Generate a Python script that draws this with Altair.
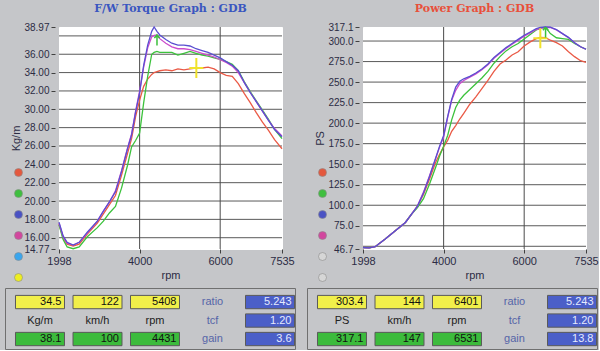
import altair as alt
import pandas as pd

# ---------------- data ----------------
rpm_torque = [1998, 2100, 2200, 2350, 2500, 2700, 2950, 3100, 3250, 3400, 3550, 3700, 3800, 3900,
              4000, 4100, 4200, 4300, 4360, 4430, 4500, 4650, 4800, 4950, 5100, 5250, 5400, 5550,
              5700, 5850, 6000, 6150, 6300, 6450, 6600, 6750, 6900, 7050, 7200, 7350, 7535]
torque_red = [17.5, 16.0, 15.3, 15.1, 15.3, 16.4, 17.6, 18.6, 19.6, 20.6, 22.8, 25.2, 26.8, 29.2,
              31.0, 32.5, 33.3, 33.8, 34.0, 34.1, 34.2, 34.3, 34.2, 34.4, 34.3, 34.4, 34.5, 34.5,
              34.6, 34.4, 34.0, 33.7, 33.6, 32.8, 31.7, 30.7, 29.6, 28.6, 27.7, 26.7, 25.7]
torque_green = [17.4, 15.8, 15.0, 14.8, 15.0, 16.1, 17.1, 17.8, 18.7, 19.4, 21.4, 23.9, 25.9, 26.6,
                27.4, 30.7, 33.6, 36.0, 36.2, 36.3, 36.2, 36.2, 36.2, 35.9, 36.1, 36.3, 36.1, 35.9,
                35.8, 35.6, 35.45, 35.2, 34.9, 34.2, 33.0, 31.9, 30.9, 29.9, 28.9, 27.8, 26.8]
torque_magenta = [17.6, 16.1, 15.4, 15.2, 15.5, 16.5, 17.8, 18.9, 19.9, 21.1, 23.3, 25.8, 27.3, 29.8,
                  32.0, 34.6, 36.7, 37.9, 38.05, 38.1, 37.7, 37.2, 36.8, 36.6, 36.6, 36.5, 36.3, 36.1,
                  35.9, 35.7, 35.4, 35.1, 34.7, 34.0, 32.9, 31.8, 30.8, 29.8, 28.8, 27.9, 27.1]
torque_blue = [17.7, 16.2, 15.5, 15.2, 15.5, 16.6, 17.8, 18.9, 19.9, 21.0, 23.2, 25.7, 27.2, 29.7,
               31.8, 34.8, 37.0, 38.5, 38.97, 38.5, 38.1, 37.6, 37.2, 37.0, 37.0, 36.9, 36.6, 36.4,
               36.2, 35.9, 35.6, 35.2, 34.8, 34.2, 32.9, 31.8, 30.8, 29.8, 28.8, 27.8, 27.0]

rpm_power = [1998, 2150, 2300, 2550, 2800, 3050, 3200, 3350, 3500, 3650, 3800, 3900, 4000, 4100,
             4200, 4300, 4400, 4500, 4650, 4800, 4950, 5100, 5250, 5400, 5550, 5700, 5850, 6000,
             6150, 6300, 6400, 6530, 6650, 6800, 6950, 7100, 7250, 7400, 7535]
power_red = [48.5, 48.0, 49.5, 59, 69, 79, 89, 99, 113, 132, 152, 162, 171, 179,
             190, 197, 205, 212, 223, 232, 242, 252, 263, 272, 277, 283, 287, 294,
             299, 303, 304.5, 304, 301, 298, 294, 287, 281, 276, 274]
power_green = [48.5, 48.0, 49.5, 59, 69, 79, 89, 97, 108, 126, 146, 160, 172, 185,
               204, 219, 228, 234, 241, 248, 255, 263, 273, 281, 288, 293, 297, 302.5,
               308, 313.5, 315.5, 317.1, 309, 304, 303, 302, 297, 293, 290]
power_magenta = [48.5, 48.0, 49.5, 59, 69, 79, 89, 99, 116, 136, 157, 171, 183, 207,
                 228, 240, 248, 252, 256, 260, 265, 271, 279, 285, 291, 296, 301, 306,
                 310, 314, 315.5, 316.5, 316.5, 313.5, 309, 304, 298, 293, 290]
power_blue = [48.5, 48.0, 49.5, 59, 69, 79, 89, 99, 115, 135, 157, 172, 185, 208,
              229, 244, 251, 254, 257, 261, 266, 272, 280, 286, 292, 297, 302, 307,
              311, 315, 316.5, 317.1, 317, 314, 309, 304.5, 298, 293, 290]

rpm_ticks = [1998, 4000, 6000, 7535]
rpm_grid = [4000, 6000]
torque_ticks = [38.97, 36, 34, 32, 30, 28, 26, 24, 22, 20, 18, 16, 14.77]
torque_grid = [38, 36, 34, 32, 30, 28, 26, 24, 22, 20, 18, 16]
power_ticks = [317.1, 300, 275, 250, 225, 200, 175, 150, 125, 100, 75, 46.7]
power_grid = [300, 275, 250, 225, 200, 175, 150, 125, 100, 75, 50]

series_names = ["red", "green", "magenta", "blue"]
series_colors = ["#ea5a46", "#3cc23c", "#cc4ccc", "#5a4fd0"]

torque_legend_colors = ["#e4583e", "#3fbf3f", "#4a52c4", "#d2479e", "#3aa6ee", "#eeee22"]
power_legend_colors = ["#e4583e", "#3fbf3f", "#4a52c4", "#d2479e", "#d6d6d6", "#d6d6d6"]

torque_current = ["34.5", "122", "5408"]
torque_units = ["Kg/m", "km/h", "rpm"]
torque_max = ["38.1", "100", "4431"]
torque_params = ["5.243", "1.20", "3.6"]
power_current = ["303.4", "144", "6401"]
power_units = ["PS", "km/h", "rpm"]
power_max = ["317.1", "147", "6531"]
power_params = ["5.243", "1.20", "13.8"]
param_names = ["ratio", "tcf", "gain"]

BG = "#c5c6c9"
FONT = "Liberation Sans"


def plot_panel(rpm, curves, ticks, grid, yfmt, ytitle, cur, peak, legend_colors,
               title, title_color):
    rows = []
    for name, vals in zip(series_names, curves):
        for r, v in zip(rpm, vals):
            rows.append({"rpm": r, "val": v, "series": name})
    long = pd.DataFrame(rows)

    x_scale = alt.Scale(domain=[rpm_ticks[0], rpm_ticks[-1]], nice=False, zero=False)
    y_scale = alt.Scale(domain=[min(ticks), max(ticks)], nice=False, zero=False)
    x_axis = alt.Axis(values=rpm_ticks, title="rpm", grid=False, domain=False, tickSize=4,
                      labelFlush=False, labelOverlap=False, labelPadding=2, titlePadding=3,
                      labelFontSize=11, format="d")
    y_axis = alt.Axis(values=ticks, format=yfmt, title=ytitle, grid=False, domain=False,
                      tickSize=4, offset=4, labelPadding=2, titlePadding=2,
                      labelFlush=False, labelOverlap=False)
    X = alt.X("rpm:Q", scale=x_scale, axis=x_axis)
    Y = alt.Y("val:Q", scale=y_scale, axis=y_axis)

    hgrid = alt.Chart(pd.DataFrame({"val": grid})).mark_rule(
        color="#5a5a5a", strokeWidth=1).encode(y=Y)
    vgrid = alt.Chart(pd.DataFrame({"rpm": rpm_grid})).mark_rule(
        color="#4a4a4a", strokeWidth=1).encode(x=X)
    lines = alt.Chart(long).mark_line(strokeWidth=1.3).encode(
        x=X, y=Y,
        color=alt.Color("series:N", scale=alt.Scale(domain=series_names, range=series_colors),
                        legend=None))
    cur_df = pd.DataFrame({"rpm": [cur[0]], "val": [cur[1]]})
    cursor = alt.Chart(cur_df).mark_point(
        shape="M-0.7,0L0.7,0M0,-1L0,1", size=400, filled=False, stroke="#f0e22c",
        strokeWidth=2, opacity=1, clip=True).encode(x=X, y=Y)
    peak_df = pd.DataFrame({"rpm": [peak[0]], "val": [peak[1]]})
    peakm = alt.Chart(peak_df).mark_point(
        shape="M0,0L0,1M-0.25,0.3L0,0L0.25,0.3", size=440, filled=False, stroke="#3cc03c",
        strokeWidth=1.5, opacity=1, clip=True).encode(x=X, y=Y)

    keys = ["k%d" % i for i in range(len(legend_colors))]
    leg = alt.Chart(pd.DataFrame({"key": keys})).mark_circle(opacity=0).encode(
        fill=alt.Fill("key:N", scale=alt.Scale(domain=keys, range=legend_colors),
                      legend=alt.Legend(orient="none", legendX=-45, legendY=141, title=None,
                                        symbolType="circle", symbolSize=64, symbolOpacity=1,
                                        symbolStrokeColor="#8a8a8a", symbolStrokeWidth=0.6,
                                        labelExpr="''", labelFontSize=9, rowPadding=10,
                                        padding=0)))
    return alt.layer(hgrid, vgrid, lines, cursor, peakm, leg).properties(
        width=223, height=222,
        title=alt.TitleParams(title, color=title_color, font="DejaVu Serif", fontSize=11,
                              fontWeight="bold", anchor="middle", offset=8),
        view=alt.ViewBackground(fill="#ffffff", stroke="#ffffff"))


def table_panel(cur, units, mx, pvals):
    cols = ["c0", "c1", "c2", "c3", "c4"]
    rws = ["r0", "r1", "r2"]
    recs = []
    for i in range(3):
        recs.append({"c": cols[i], "r": "r0", "txt": cur[i], "kind": "cur"})
        recs.append({"c": cols[i], "r": "r1", "txt": units[i], "kind": "unit"})
        recs.append({"c": cols[i], "r": "r2", "txt": mx[i], "kind": "max"})
    for j in range(3):
        recs.append({"c": "c3", "r": rws[j], "txt": param_names[j], "kind": "pname"})
        recs.append({"c": "c4", "r": rws[j], "txt": pvals[j], "kind": "par"})
    df = pd.DataFrame(recs)
    xs = alt.Scale(domain=cols, paddingInner=0.148, paddingOuter=0.0956, align=0.955)
    ys = alt.Scale(domain=rws, paddingInner=0.28, paddingOuter=0.29, align=0.69)
    X = alt.X("c:N", scale=xs, axis=None)
    Xend = alt.X("c:N", scale=xs, axis=None, bandPosition=1)
    Y = alt.Y("r:N", scale=ys, axis=None)
    base = alt.Chart(df)
    boxes = base.transform_filter(
        "datum.kind == 'cur' || datum.kind == 'max' || datum.kind == 'par'"
    ).mark_rect(stroke="#5a5a5a", strokeWidth=1).encode(
        x=X, y=Y,
        color=alt.Color("kind:N", scale=alt.Scale(domain=["cur", "max", "par"],
                                                  range=["#f1ef4a", "#3cbb3c", "#4b5fc8"]),
                        legend=None))
    vals = base.transform_filter("datum.kind == 'cur' || datum.kind == 'max'").mark_text(
        align="right", dx=-3, fontSize=11, font=FONT, color="#111111").encode(
        x=Xend, y=Y, text="txt:N")
    pars = base.transform_filter("datum.kind == 'par'").mark_text(
        align="right", dx=-3, fontSize=11, font=FONT, color="#e4eaff").encode(
        x=Xend, y=Y, text="txt:N")
    unit = base.transform_filter("datum.kind == 'unit'").mark_text(
        align="center", fontSize=11, font=FONT, color="#222222").encode(
        x=X, y=Y, text="txt:N")
    pname = base.transform_filter("datum.kind == 'pname'").mark_text(
        align="center", fontSize=11, font=FONT, color="#5565a8").encode(
        x=X, y=Y, text="txt:N")
    return alt.layer(boxes, vals, pars, unit, pname).properties(
        width=290, height=61,
        view=alt.ViewBackground(fill=BG, stroke="#707070", strokeWidth=1))


plotL = plot_panel(rpm_torque, [torque_red, torque_green, torque_magenta, torque_blue],
                   torque_ticks, torque_grid, ".2f", "Kg/m",
                   (float(torque_current[2]), float(torque_current[0])),
                   (float(torque_max[2]), float(torque_max[0])), torque_legend_colors,
                   "F/W Torque Graph : GDB", "#3a56c0")
plotR = plot_panel(rpm_power, [power_red, power_green, power_magenta, power_blue],
                   power_ticks, power_grid, ".1f", "PS",
                   (float(power_current[2]), float(power_current[0])),
                   (float(power_max[2]), float(power_max[0])), power_legend_colors,
                   "Power Graph : GDB", "#e8503a")
tableL = table_panel(torque_current, torque_units, torque_max, torque_params)
tableR = table_panel(power_current, power_units, power_max, power_params)

spacer = alt.Chart(pd.DataFrame({"a": [0]})).mark_point(opacity=0, size=1).encode(
    x=alt.value(0.5), y=alt.value(0.5)).properties(
    width=1, height=1, view=alt.ViewBackground(fill="transparent", stroke="transparent"))

plots_inner = alt.hconcat(plotL, plotR, spacing=19).resolve_scale(
    color="independent", fill="independent")
plots = alt.hconcat(spacer, plots_inner, spacing=3).resolve_scale(
    color="independent", fill="independent")
tables = alt.hconcat(tableL, tableR, spacing=10).resolve_scale(
    color="independent", fill="independent")

chart = alt.vconcat(plots, tables, spacing=3).resolve_scale(
    color="independent", fill="independent").properties(
    background=BG,
    padding={"left": 4, "top": 2, "right": 0, "bottom": 0},
).configure_axis(
    labelFont=FONT, labelFontSize=10, labelColor="#2c2c44",
    titleFont=FONT, titleFontSize=11, titleColor="#2c2c44", titleFontWeight="normal",
    tickColor="#404040",
).configure_view(strokeWidth=1)

chart.save("out.html", embed_options={"renderer": "svg", "actions": False})
